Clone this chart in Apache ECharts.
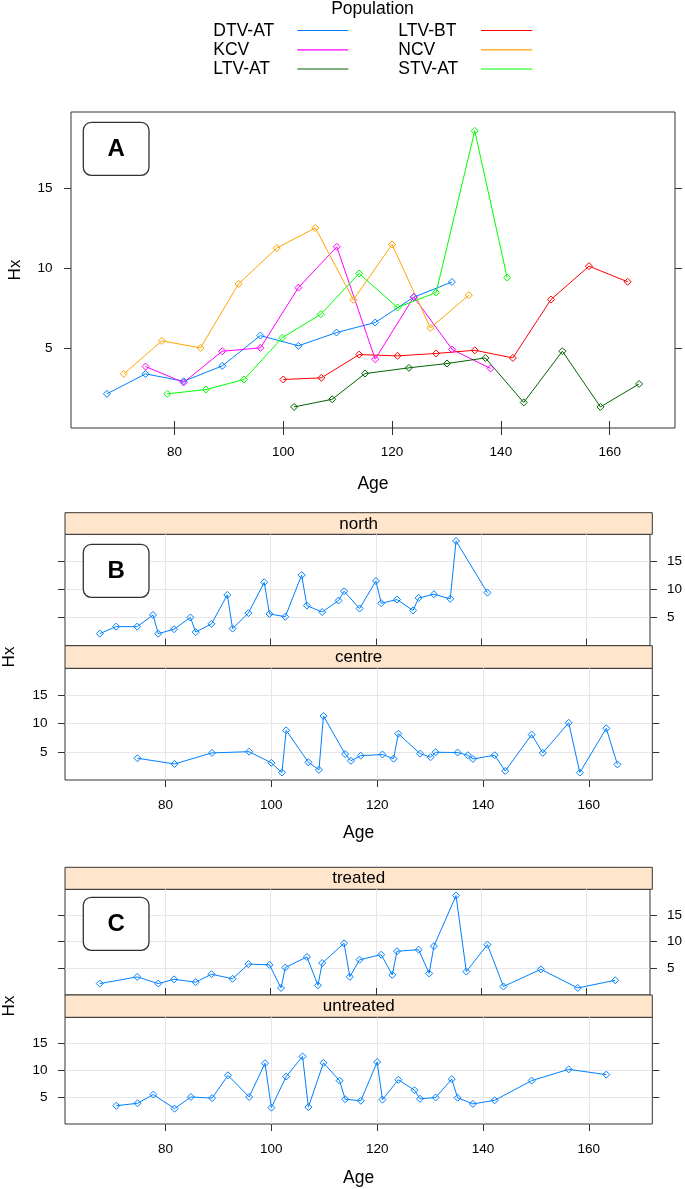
<!DOCTYPE html>
<html>
<head>
<meta charset="utf-8">
<script src="https://cdn.jsdelivr.net/npm/echarts@6/dist/echarts.min.js"></script>
<style>
  html, body { margin: 0; padding: 0; background: #fff; }
  #chart { width: 685px; height: 1189px; }
</style>
</head>
<body>
<div id="chart"></div>
<script>
// ---------------- data ----------------
const POPULATIONS = ['DTV-AT', 'KCV', 'LTV-AT', 'LTV-BT', 'NCV', 'STV-AT'];
const COLORS = ['#0080ff', '#ff00ff', '#006400', '#ff0000', '#ffa500', '#00ff00'];

const AGE_DTV_AT = [67.6, 74.7, 81.7, 88.8, 95.8, 102.8, 109.8, 116.9, 124.0, 131.0];
const HX_DTV_AT  = [2.14, 3.39, 2.93, 3.89, 5.79, 5.15, 5.98, 6.61, 8.2, 9.15];

const AGE_KCV = [74.7, 81.7, 88.8, 95.8, 102.8, 109.85, 116.9, 124.0, 131.05, 138.1];
const HX_KCV  = [3.85, 2.85, 4.81, 5.02, 8.80, 11.35, 4.31, 8.21, 4.92, 3.73];

const AGE_LTV_AT = [102.0, 109.0, 115.05, 123.1, 130.1, 137.15, 144.2, 151.3, 158.3, 165.4];
const HX_LTV_AT  = [1.32, 1.80, 3.41, 3.77, 4.04, 4.39, 1.60, 4.81, 1.32, 2.76];

const AGE_LTV_BT = [100.0, 107.0, 113.95, 121.0, 128.1, 135.2, 142.2, 149.2, 156.2, 163.3];
const HX_LTV_BT  = [3.04, 3.14, 4.60, 4.52, 4.67, 4.87, 4.39, 8.05, 10.14, 9.16];

const AGE_NCV = [70.7, 77.7, 84.8, 91.8, 98.8, 105.9, 112.9, 120.0, 127.05, 134.1];
const HX_NCV  = [3.39, 5.46, 5.02, 9.03, 11.27, 12.54, 8.03, 11.50, 6.27, 8.32];

const AGE_STV_AT = [78.7, 85.8, 92.8, 99.8, 106.9, 113.95, 121.0, 128.1, 135.2, 141.15];
const HX_STV_AT  = [2.14, 2.41, 3.04, 5.65, 7.13, 9.68, 7.55, 8.49, 18.62, 9.43];

const GROUP_NORTH = ['DTV-AT', 'NCV', 'STV-AT'];
const GROUP_CENTRE = ['KCV', 'LTV-AT', 'LTV-BT'];
const GROUP_TREATED = ['DTV-AT', 'LTV-AT', 'STV-AT'];
const GROUP_UNTREATED = ['KCV', 'LTV-BT', 'NCV'];

const X_TICKS = [80, 100, 120, 140, 160];
const Y_TICKS = [5, 10, 15];

// ---------------- helpers ----------------
const AGES = {'DTV-AT': AGE_DTV_AT, 'KCV': AGE_KCV, 'LTV-AT': AGE_LTV_AT, 'LTV-BT': AGE_LTV_BT, 'NCV': AGE_NCV, 'STV-AT': AGE_STV_AT};
const HXS  = {'DTV-AT': HX_DTV_AT, 'KCV': HX_KCV, 'LTV-AT': HX_LTV_AT, 'LTV-BT': HX_LTV_BT, 'NCV': HX_NCV, 'STV-AT': HX_STV_AT};

function pairs(name) { return AGES[name].map((a, i) => [a, HXS[name][i]]); }
function combine(names) {
  const out = [];
  names.forEach(n => pairs(n).forEach(p => out.push(p)));
  out.sort((p, q) => p[0] - q[0]);
  return out;
}

const FONT = "'Liberation Sans', Arial, Helvetica, sans-serif";
const BOX = '#333';
const GRIDLINE = '#e6e6e6';
const XMIN = 61, XMAX = 172, YMIN = 0, YMAX = 19.8;

function xAx(grid, o) {
  return {
    type: 'value', gridIndex: grid, min: XMIN, max: XMAX,
    position: o.pos || 'bottom', offset: o.offset || 0,
    axisLine: { show: false },
    axisTick: { show: !!o.ticks, inside: false, length: 7, customValues: X_TICKS, lineStyle: { color: BOX, width: 1 } },
    axisLabel: { show: !!o.labels, customValues: X_TICKS, margin: o.margin || 17, fontSize: 13.5, color: '#000', fontFamily: FONT },
    splitLine: { show: !!o.split, lineStyle: { color: GRIDLINE, width: 1 } },
    name: o.name || '', nameLocation: 'middle', nameGap: o.nameGap || 46,
    nameTextStyle: { fontSize: 17.5, color: '#000', fontFamily: FONT }
  };
}
function yAx(grid, o) {
  return {
    type: 'value', gridIndex: grid, min: YMIN, max: YMAX,
    position: o.pos || 'left',
    axisLine: { show: false },
    axisTick: { show: true, inside: false, length: 7, customValues: Y_TICKS, lineStyle: { color: BOX, width: 1 } },
    axisLabel: { show: !!o.labels, customValues: Y_TICKS, margin: o.margin || 17.5, fontSize: 13.5, color: '#000', fontFamily: FONT },
    splitLine: { show: !!o.split, lineStyle: { color: GRIDLINE, width: 1 } }
  };
}
function lineSeries(name, data, color, xi, yi) {
  return {
    type: 'line', name: name, data: data, xAxisIndex: xi, yAxisIndex: yi,
    symbol: 'diamond', symbolSize: 7, showSymbol: true,
    lineStyle: { color: color, width: 1 },
    itemStyle: { color: 'rgba(255,255,255,0)', borderColor: color, borderWidth: 1 },
    emphasis: { disabled: true }, silent: true, z: 3
  };
}

// ---------------- layout ----------------
const GRIDS = [
  { left: 71, top: 112, width: 604, height: 316 },
  { left: 65, top: 534.3, width: 587.3, height: 111.4 },
  { left: 65, top: 668.3, width: 587.3, height: 111.7 },
  { left: 65, top: 889.3, width: 587.3, height: 105.7 },
  { left: 65, top: 1017.3, width: 587.3, height: 106.7 }
].map(g => Object.assign({ show: true, borderColor: BOX, borderWidth: 1, backgroundColor: 'rgba(0,0,0,0)', containLabel: false }, g));

const xAxes = [
  xAx(0, { ticks: true, labels: true, name: 'Age', nameGap: 47, margin: 17 }),
  xAx(0, { pos: 'top', ticks: true }),
  xAx(1, { split: true }),
  xAx(1, { pos: 'top', ticks: true, offset: 21.6 }),
  xAx(2, { ticks: true, labels: true, split: true, name: 'Age', nameGap: 44.5, margin: 18.5 }),
  xAx(3, { split: true }),
  xAx(3, { pos: 'top', ticks: true, offset: 22 }),
  xAx(4, { ticks: true, labels: true, split: true, name: 'Age', nameGap: 45.5, margin: 17.8 })
];
const yAxes = [
  yAx(0, { labels: true, margin: 18.5 }),
  yAx(0, { pos: 'right' }),
  yAx(1, { split: true }),
  yAx(1, { pos: 'right', labels: true, margin: 17 }),
  yAx(2, { labels: true, split: true }),
  yAx(2, { pos: 'right' }),
  yAx(3, { split: true }),
  yAx(3, { pos: 'right', labels: true, margin: 17 }),
  yAx(4, { labels: true, split: true }),
  yAx(4, { pos: 'right' })
];

const series = [];
POPULATIONS.forEach((p, i) => series.push(lineSeries(p, pairs(p), COLORS[i], 0, 0)));
series.push(lineSeries('north', combine(GROUP_NORTH), COLORS[0], 2, 2));
series.push(lineSeries('centre', combine(GROUP_CENTRE), COLORS[0], 4, 4));
series.push(lineSeries('treated', combine(GROUP_TREATED), COLORS[0], 5, 6));
series.push(lineSeries('untreated', combine(GROUP_UNTREATED), COLORS[0], 7, 8));

// ---------------- decorations ----------------
const graphics = [];
function txt(x, y, s, size, opts) {
  graphics.push(Object.assign({
    type: 'text', x: x, y: y, silent: true,
    style: Object.assign({ text: s, fontSize: size, fontFamily: FONT, fill: '#000', textAlign: 'left', textVerticalAlign: 'middle' }, (opts && opts.style) || {})
  }, (opts && opts.el) || {}));
}
// legend
txt(372.5, 9.5, 'Population', 17.5, { style: { textAlign: 'center' } });
const LEG_COLS = [{ tx: 213.3, l0: 297.3, l1: 348.3 }, { tx: 398.3, l0: 481, l1: 532.3 }];
const LEG_ROWS = [30.5, 49.8, 69];
POPULATIONS.forEach((p, i) => {
  const c = LEG_COLS[Math.floor(i / 3)], y = LEG_ROWS[i % 3];
  txt(c.tx, y + 0.5, p, 17.5);
  graphics.push({ type: 'line', silent: true, shape: { x1: c.l0, y1: y, x2: c.l1, y2: y }, style: { stroke: COLORS[i], lineWidth: 1.2 } });
});
// strips
const STRIPS = [
  { y: 512.7, h: 21.6, t: 'north' },
  { y: 645.7, h: 22.6, t: 'centre' },
  { y: 867.3, h: 22, t: 'treated' },
  { y: 995, h: 22.3, t: 'untreated' }
];
STRIPS.forEach(s => {
  graphics.push({ type: 'rect', silent: true, shape: { x: 65, y: s.y, width: 587.3, height: s.h }, style: { fill: '#ffe5cc', stroke: BOX, lineWidth: 1 } });
  txt(358.7, s.y + s.h / 2 + 0.5, s.t, 17, { style: { textAlign: 'center' } });
});
// panel label boxes
[{ y: 122.3, t: 'A' }, { y: 544.3, t: 'B' }, { y: 897.3, t: 'C' }].forEach(b => {
  graphics.push({ type: 'rect', silent: true, z: 10, shape: { x: 83.3, y: b.y, width: 65.7, height: 53, r: 8 }, style: { fill: '#fff', stroke: BOX, lineWidth: 1.3 } });
  graphics.push({ type: 'text', silent: true, z: 11, x: 116.2, y: b.y + 27, style: { text: b.t, fontSize: 24, fontWeight: 'bold', fontFamily: FONT, fill: '#000', textAlign: 'center', textVerticalAlign: 'middle' } });
});
// y titles
[{ x: 15, y: 270 }, { x: 9.5, y: 657 }, { x: 9.5, y: 1006 }].forEach(h => {
  graphics.push({ type: 'text', silent: true, x: h.x, y: h.y, rotation: Math.PI / 2, style: { text: 'Hx', fontSize: 17, fontFamily: FONT, fill: '#000', textAlign: 'center', textVerticalAlign: 'middle' } });
});

const chart = echarts.init(document.getElementById('chart'), null, { renderer: 'canvas' });
chart.setOption({
  animation: false,
  backgroundColor: '#fff',
  textStyle: { fontFamily: FONT },
  grid: GRIDS,
  xAxis: xAxes,
  yAxis: yAxes,
  series: series,
  graphic: { elements: graphics }
});
</script>
</body>
</html>
